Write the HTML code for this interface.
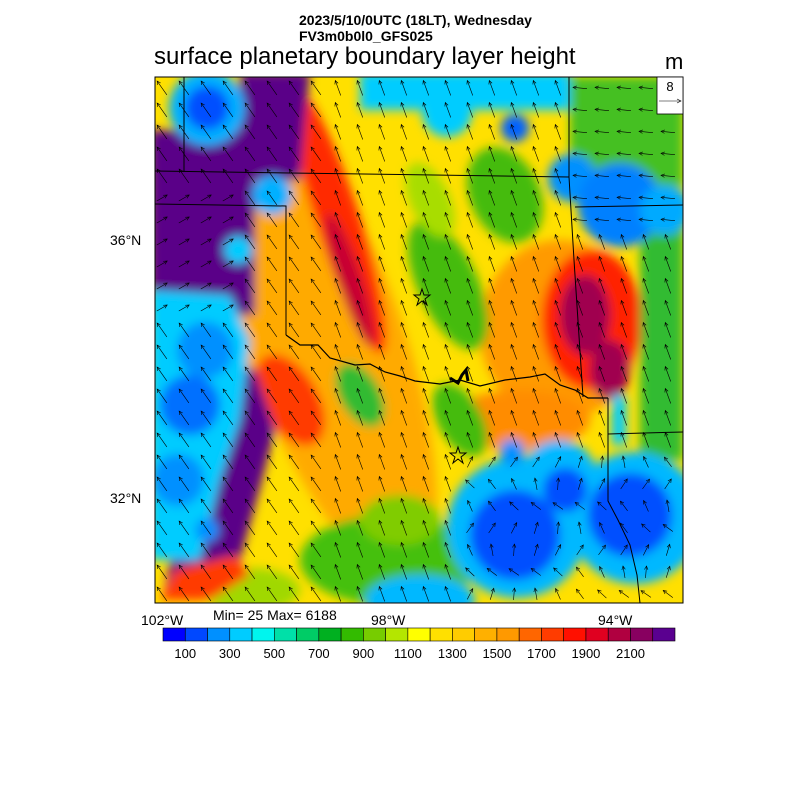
<!DOCTYPE html>
<html><head><meta charset="utf-8"><style>
html,body{margin:0;padding:0;background:#fff;}
body{width:800px;height:800px;position:relative;overflow:hidden;font-family:"Liberation Sans",Arial,sans-serif;}
.t{position:absolute;white-space:nowrap;color:#000;}
</style></head><body>
<div class="t" style="left:299px;top:12px;font-size:14px;font-weight:bold;">2023/5/10/0UTC (18LT), Wednesday</div>
<div class="t" style="left:299px;top:28px;font-size:14px;font-weight:bold;">FV3m0b0l0_GFS025</div>
<div class="t" style="left:154px;top:43px;font-size:24px;">surface planetary boundary layer height</div>
<div class="t" style="left:665px;top:49px;font-size:22px;">m</div>
<div class="t" style="left:110px;top:232px;font-size:14px;">36°N</div>
<div class="t" style="left:110px;top:490px;font-size:14px;">32°N</div>
<div class="t" style="left:141px;top:612px;font-size:14px;">102°W</div>
<div class="t" style="left:371px;top:612px;font-size:14px;">98°W</div>
<div class="t" style="left:598px;top:612px;font-size:14px;">94°W</div>
<div class="t" style="left:213px;top:607px;font-size:14px;">Min= 25 Max= 6188</div>
<svg width="800" height="800" style="position:absolute;left:0;top:0" xmlns="http://www.w3.org/2000/svg">
<defs>
<clipPath id="c"><rect x="155" y="77" width="528" height="526"/></clipPath>
<filter id="b" x="-10%" y="-10%" width="120%" height="120%"><feGaussianBlur stdDeviation="5"/></filter>
</defs>
<g clip-path="url(#c)">
<rect x="155" y="77" width="528" height="526" fill="#ffe000"/>
<g filter="url(#b)">
<ellipse cx="320" cy="330" rx="80" ry="260" fill="#ffaa00" transform="rotate(-20 320 330)"/>
<ellipse cx="560" cy="330" rx="80" ry="90" fill="#ff9a00"/>
<ellipse cx="520" cy="420" rx="70" ry="30" fill="#ff8c00"/>
<ellipse cx="338" cy="220" rx="22" ry="140" fill="#ff2a00" transform="rotate(-18 338 220)"/>
<ellipse cx="350" cy="280" rx="12" ry="70" fill="#c80030" transform="rotate(-18 350 280)"/>
<ellipse cx="290" cy="400" rx="28" ry="50" fill="#ff3a00" transform="rotate(-30 290 400)"/>
<ellipse cx="592" cy="320" rx="50" ry="70" fill="#ff2000"/>
<ellipse cx="585" cy="315" rx="25" ry="40" fill="#a00050"/>
<ellipse cx="610" cy="370" rx="20" ry="30" fill="#a00050"/>
<ellipse cx="448" cy="285" rx="30" ry="70" fill="#44bb10" transform="rotate(-25 448 285)"/>
<ellipse cx="505" cy="195" rx="35" ry="50" fill="#44bb10" transform="rotate(-25 505 195)"/>
<ellipse cx="430" cy="200" rx="20" ry="40" fill="#a8dd00" transform="rotate(-25 430 200)"/>
<ellipse cx="360" cy="395" rx="20" ry="35" fill="#33bb30" transform="rotate(-30 360 395)"/>
<ellipse cx="460" cy="420" rx="22" ry="40" fill="#44bb10" transform="rotate(-30 460 420)"/>
<ellipse cx="390" cy="560" rx="90" ry="45" fill="#44c010"/>
<ellipse cx="400" cy="520" rx="40" ry="25" fill="#80cc00"/>
<ellipse cx="250" cy="590" rx="50" ry="22" fill="#a0d800"/>
<rect x="570" y="77" width="113" height="110" fill="#44c020"/>
<rect x="640" y="200" width="43" height="260" fill="#33bb30"/>
<rect x="150" y="130" width="105" height="185" fill="#5a0088"/>
<polygon points="240,72 310,72 305,120 300,180 250,180 240,130" fill="#5a0088"/>
<polygon points="230,360 255,370 275,430 262,480 240,560 165,590 180,500 200,420" fill="#5a0088"/>
<polygon points="175,570 235,555 250,575 210,600 160,600" fill="#ff3a00"/>
<rect x="360" y="72" width="210" height="38" fill="#00ccff"/>
<circle cx="447" cy="112" r="25" fill="#00ccff"/>
<circle cx="515" cy="128" r="14" fill="#0060ff"/>
<circle cx="207" cy="108" r="38" fill="#00b0ff"/>
<circle cx="207" cy="108" r="22" fill="#0050ff"/>
<polygon points="150,290 230,295 250,340 240,420 220,480 200,560 150,560" fill="#00ccff"/>
<circle cx="205" cy="350" r="28" fill="#0090ff"/>
<circle cx="190" cy="405" r="30" fill="#0070ff"/>
<circle cx="178" cy="480" r="26" fill="#0090ff"/>
<circle cx="272" cy="195" r="20" fill="#00b0ff"/>
<circle cx="238" cy="250" r="14" fill="#00ccff"/>
<circle cx="207" cy="530" r="12" fill="#0090ff"/>
<circle cx="572" cy="178" r="24" fill="#0090ff"/>
<circle cx="620" cy="205" r="42" fill="#0080ff"/>
<circle cx="665" cy="210" r="25" fill="#00aaff"/>
<circle cx="517" cy="528" r="70" fill="#00b8ff"/>
<circle cx="635" cy="518" r="66" fill="#00b8ff"/>
<circle cx="559" cy="478" r="38" fill="#00b8ff"/>
<circle cx="512" cy="452" r="13" fill="#0090ff"/>
<circle cx="515" cy="535" r="45" fill="#0050ff"/>
<circle cx="630" cy="515" r="42" fill="#0050ff"/>
<circle cx="565" cy="490" r="22" fill="#0050ff"/>
<ellipse cx="420" cy="600" rx="55" ry="25" fill="#00b8ff"/>
<rect x="612" y="395" width="14" height="50" fill="#00ccff"/>
</g>
<g fill="none" stroke="#000" stroke-width="1">
<polyline points="155,171 569,177"/>
<polyline points="155,204 286,206 286,335"/>
<polyline points="184,77 184,171"/>
<polyline points="569,77 569,177 574,260 583,397"/>
<polyline points="575,207 683,205"/>
<polyline points="608,434 683,432"/>
<polyline points="608,398 608,501 618,520 630,545 637,575 640,603"/>
<polyline points="286,335 300,345 318,345 330,358 355,365 370,364 385,372 400,376 415,381 440,384 460,380 480,386 505,380 530,377 545,374 560,385 575,390 588,398 608,398" stroke-width="1.2"/>
<polyline points="450,378 458,383 462,375 466,370 468,381" stroke-width="3"/>
</g>
<g fill="none" stroke="#000" stroke-width="1">
<polygon points="422,289 424,295 430,295 425,299 427,305 422,301 417,305 419,299 414,295 420,295"/>
<polygon points="458,447 460,453 466,453 461,457 463,463 458,459 453,463 455,457 450,453 456,453"/>
</g>
<g id="arr" stroke="#000" stroke-width="0.6" fill="none"></g>
</g>
<rect x="155" y="77" width="528" height="526" fill="none" stroke="#000" stroke-width="1"/>
<rect x="657" y="77" width="26" height="37" fill="#fff" stroke="#000" stroke-width="0.8"/>
<text x="670" y="91" font-family="Liberation Sans" font-size="13" text-anchor="middle">8</text>
<line x1="659" y1="101" x2="681" y2="101" stroke="#000" stroke-width="0.6"/>
<polyline points="677,99 681,101 677,103" fill="none" stroke="#000" stroke-width="0.6"/>
<g id="cb"></g>
</svg>
<script>
var cols=["#0000ff","#0048ff","#0090ff","#00ccff","#00f5ee","#00e0a8","#00cc66","#00b020","#33bb00","#77cc00","#b4e600","#ffff00","#ffe000","#ffcc00","#ffb000","#ff9900","#ff6600","#ff3c00","#ff1000","#e00020","#b00040","#880060","#5a0090"];
var ns="http://www.w3.org/2000/svg",cb=document.getElementById("cb"),w=512/23;
cols.forEach(function(c,i){var r=document.createElementNS(ns,"rect");r.setAttribute("x",163+i*w);r.setAttribute("y",628);r.setAttribute("width",w);r.setAttribute("height",13);r.setAttribute("fill",c);r.setAttribute("stroke","#000");r.setAttribute("stroke-width","0.6");cb.appendChild(r);});
for(var k=0;k<11;k++){var t=document.createElementNS(ns,"text");t.setAttribute("x",163+w*(2*k+1));t.setAttribute("y",658);t.setAttribute("font-size","13");t.setAttribute("font-family","Liberation Sans");t.setAttribute("text-anchor","middle");t.textContent=100+200*k;cb.appendChild(t);}
var g=document.getElementById("arr");
for(var y=88;y<603;y+=22){for(var x=162;x<683;x+=22){
var ang=-110*Math.PI/180, L=16;
if(x>560&&y<240){ang=Math.PI*(1+0.03);L=14;}
else if(x<250&&y>180&&y<330){ang=-30*Math.PI/180;L=12;}
else if(x>450&&y>440){ang=-100*Math.PI/180+Math.sin(x*0.3+y*0.2)*0.8;L=12;}
else if(x<320){ang=-125*Math.PI/180;L=17;}
var dx=Math.cos(ang)*L,dy=Math.sin(ang)*L,x0=x-dx/2,y0=y-dy/2,x1=x+dx/2,y1=y+dy/2;
var l=document.createElementNS(ns,"line");l.setAttribute("x1",x0);l.setAttribute("y1",y0);l.setAttribute("x2",x1);l.setAttribute("y2",y1);g.appendChild(l);
var a1=ang+Math.PI-0.45,a2=ang+Math.PI+0.45;
var p=document.createElementNS(ns,"polyline");p.setAttribute("points",(x1+Math.cos(a1)*4)+","+(y1+Math.sin(a1)*4)+" "+x1+","+y1+" "+(x1+Math.cos(a2)*4)+","+(y1+Math.sin(a2)*4));g.appendChild(p);
}}
</script>
</body></html>
